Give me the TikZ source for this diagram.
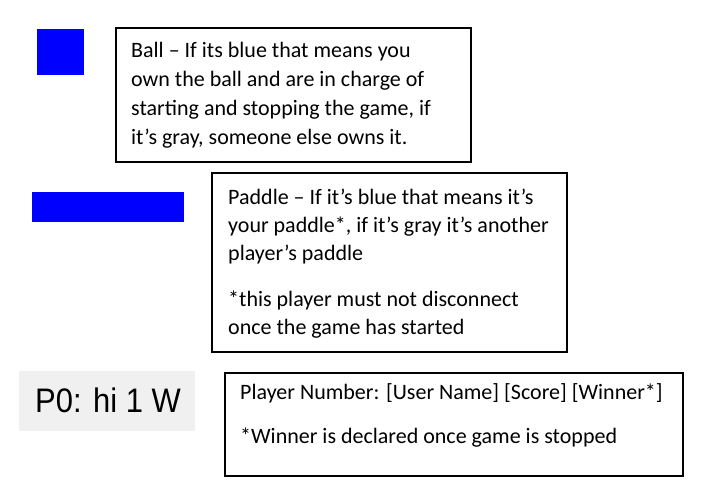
\documentclass[tikz,border=0pt]{standalone}
\usepackage{fontspec}
\usepackage{graphicx}
\setmainfont{Carlito}
\newfontfamily\pfont{Liberation Sans}
\definecolor{pureblue}{HTML}{0000FF}
\definecolor{panelgray}{HTML}{F0F0F0}
\begin{document}
\begin{tikzpicture}[x=1pt,y=-1pt,
  infobox/.style={draw=black,line width=1.4pt},
  swatch/.style={fill=pureblue,draw=none},
  bigtxt/.style={anchor=base west,inner sep=0pt,font=\fontsize{22}{26}\selectfont},
  smalltxt/.style={anchor=base west,inner sep=0pt,font=\fontsize{22}{26}\selectfont}]
\useasboundingbox (0,0) rectangle (704,496);
% ball
\fill[swatch] (37,29) rectangle (84,75);
\draw[infobox] (116,28) rectangle (471,162);
\node[bigtxt] (b1) at (131,57) {Ball – If its blue that means you};
\node[bigtxt] (b2) at (131,86) {own the ball and are in charge of};
\node[bigtxt] (b3) at (131,115) {starting and stopping the game, if};
\node[bigtxt] (b4) at (131,144) {it’s gray, someone else owns it.};
% paddle
\fill[swatch] (32,192) rectangle (184,222);
\draw[infobox] (212,173) rectangle (567,352);
\node[bigtxt] (p1) at (228,204) {Paddle – If it’s blue that means it’s};
\node[bigtxt] (p2) at (228,232) {your paddle*, if it’s gray it’s another};
\node[bigtxt] (p3) at (228,260) {player’s paddle};
\node[bigtxt] (p4) at (228,306) {*this player must not disconnect};
\node[bigtxt] (p5) at (228,334) {once the game has started};
% player
\fill[panelgray] (19,371) rectangle (195,431);
\node[anchor=base west,inner sep=0pt,font=\pfont\fontsize{34}{40}\selectfont,text=black] (pz) at (35,412) {\scalebox{0.91}[1]{P0: hi 1 W}};
\draw[infobox] (225,373) rectangle (683,476);
\node[smalltxt] (n1) at (240,399) {Player Number: [User Name] [Score] [Winner*]};
\node[smalltxt] (n2) at (240,443) {*Winner is declared once game is stopped};
\end{tikzpicture}
\end{document}
